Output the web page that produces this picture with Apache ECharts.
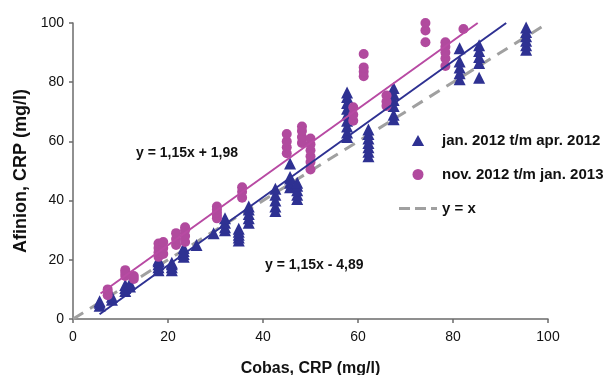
<!DOCTYPE html>
<html>
<head>
<meta charset="utf-8">
<script src="https://cdn.jsdelivr.net/npm/echarts@6/dist/echarts.min.js"></script>
<style>
html,body{margin:0;padding:0;background:#fff;}
#chart{width:613px;height:375px;}
</style>
</head>
<body>
<div id="chart"></div>
<script>
// jan. 2012 t/m apr. 2012 (Cobas, Afinion)
var janData = [
	[5.6,4.5],[5.6,5.5],[5.6,6],
	[8.2,6.5],[8.2,7.5],
	[11,9.5],[11,10.5],[11,11.5],[12,11],[12,12],
	[18,16.5],[18,17.5],[18,18.5],[18,19.5],[18,20],
	[20.8,16.5],[20.8,17.5],[20.8,18.5],[20.8,19],
	[23.3,21],[23.3,22],[23.3,23],[23.3,24],
	[26,25],[29.6,29],
	[32,30],[32,31],[32,32.5],[32,34],
	[34.9,26.5],[34.9,27.5],[34.9,28.5],[34.9,29.5],[34.9,30.5],
	[37,32.5],[37,34],[37,35.5],[37,37],[37,38],
	[42.6,36.5],[42.6,38],[42.6,40],[42.6,42],[42.6,44],
	[45.7,44.5],[45.7,46],[45.7,47.5],[45.7,48],[45.7,52.5],
	[47.2,40.5],[47.2,42],[47.2,43.5],[47.2,45],[47.2,46],
	[57.7,61.5],[57.7,63],[57.7,65],[57.7,67],[57.7,69],[57.7,71],[57.7,73],[57.7,75],[57.7,76.5],
	[62.2,55],[62.2,56.5],[62.2,58],[62.2,59.5],[62.2,61],[62.2,62.5],[62.2,64],
	[67.5,67.5],[67.5,69],[67.5,72],[67.5,74],[67.5,76],[67.5,78],
	[81.4,81],[81.4,83],[81.4,85],[81.4,87],[81.4,91.5],
	[85.5,81.5],[85.5,86.5],[85.5,88.5],[85.5,90.5],[85.5,92.5],
	[95.4,91],[95.4,92.5],[95.4,94],[95.4,95.5],[95.4,97],[95.4,98.5]
];
// nov. 2012 t/m jan. 2013
var novData = [
	[7.3,8],[7.3,9],[7.3,10],
	[11,14.5],[11,15.5],[11,16.5],[12.8,13.5],[12.8,14.5],
	[18,21],[18,22.5],[18,24],[18,25.5],
	[19,22],[19,24],[19,26],
	[21.7,25],[21.7,27],[21.7,29],
	[23.6,26],[23.6,28],[23.6,30],[23.6,31],
	[30.3,34],[30.3,35],[30.3,36],[30.3,37],[30.3,38],
	[35.6,41],[35.6,43],[35.6,44.5],
	[45,56],[45,58],[45,60],[45,62.5],
	[48.2,59.5],[48.2,61.5],[48.2,63.5],[48.2,65],
	[50,50.5],[50,53],[50,55],[50,57],[50,59],[50,61],
	[59,67],[59,69],[59,71.5],
	[61.2,82],[61.2,83.5],[61.2,85],[61.2,89.5],
	[66,72],[66,73.5],[66,75.5],
	[74.2,93.5],[74.2,97.5],[74.2,100],
	[78.4,85.5],[78.4,88],[78.4,90],[78.4,92],[78.4,93.5],
	[82.2,98]
];
// regression lines (endpoints)
var janFit = [[5.6,1.6],[91.2,100]];
var novFit = [[5.8,8.6],[85.2,100]];
var identity = [[0,0],[100,100]];
var seriesNames = ['jan. 2012 t/m apr. 2012','nov. 2012 t/m jan. 2013','y = x'];
var novEq = 'y = 1,15x + 1,98';
var janEq = 'y = 1,15x - 4,89';

var myChart = echarts.init(document.getElementById('chart'));
var font = 'Liberation Sans, Arial, sans-serif';
var blue = '#2e3192';
var pink = '#b14a9e';

var axisCommon = {
	min:0,
	max:100,
	interval:20,
	splitLine:{show:false},
	axisLine:{lineStyle:{color:'#6b6b6b',width:1.5}},
	axisTick:{show:true,length:4,lineStyle:{color:'#6b6b6b',width:1.5}},
	nameTextStyle:{fontFamily:font,fontWeight:'bold',color:'#111'}
};

var option = {
	animation:false,
	grid:{left:73,right:65,top:23,bottom:56,containLabel:false,outerBoundsMode:'none'},
	legend:{
		orient:'vertical',
		left:394,
		top:128,
		itemWidth:38,
		itemHeight:11,
		itemGap:19,
		textStyle:{fontFamily:font,fontSize:15,fontWeight:'bold',color:'#111'},
		data:[
			{name:seriesNames[0],icon:'path://M5,0L10,9L0,9Z'},
			{name:seriesNames[1],icon:'path://M5,0A5,5,0,1,1,5,10A5,5,0,1,1,5,0Z'},
			{name:seriesNames[2],icon:'path://M0,0h11v3h-11zM16,0h11v3h-11zM32,0h6v3h-6z'}
		]
	},
	xAxis:echarts.util.merge({
		type:'value',
		name:'Cobas, CRP (mg/l)',
		nameLocation:'middle',
		nameGap:42,
		nameTextStyle:{fontSize:16},
		axisLabel:{margin:11,fontFamily:font,fontSize:14,color:'#111'}
	},axisCommon,false),
	yAxis:echarts.util.merge({
		type:'value',
		name:'Afinion, CRP (mg/l)',
		nameLocation:'middle',
		nameGap:33,
		nameTextStyle:{fontSize:18},
		axisLabel:{margin:9,fontFamily:font,fontSize:14,color:'#111'}
	},axisCommon,false),
	graphic:[
		{type:'text',left:136,top:146,style:{text:novEq,font:'bold 14px Liberation Sans, Arial',fill:'#111'}},
		{type:'text',left:265,top:258,style:{text:janEq,font:'bold 14px Liberation Sans, Arial',fill:'#111'}}
	],
	series:[
		{
			name:seriesNames[2],
			type:'line',
			data:identity,
			symbol:'none',
			z:1,
			lineStyle:{color:'#a0a0a0',width:3,type:[12,8]},
			itemStyle:{color:'#a0a0a0'}
		},
		{
			name:seriesNames[0],
			type:'scatter',
			data:janData,
			symbol:'triangle',
			symbolSize:12,
			z:2,
			itemStyle:{color:blue,opacity:1}
		},
		{
			name:seriesNames[1],
			type:'scatter',
			data:novData,
			symbol:'circle',
			symbolSize:10,
			z:3,
			itemStyle:{color:pink,opacity:1}
		},
		{
			name:'fit jan',
			type:'line',
			data:janFit,
			symbol:'none',
			z:4,
			lineStyle:{color:blue,width:2},
			itemStyle:{color:blue}
		},
		{
			name:'fit nov',
			type:'line',
			data:novFit,
			symbol:'none',
			z:4,
			lineStyle:{color:'#b84aa3',width:2},
			itemStyle:{color:'#b84aa3'}
		}
	]
};
myChart.setOption(option);
</script>
</body>
</html>
